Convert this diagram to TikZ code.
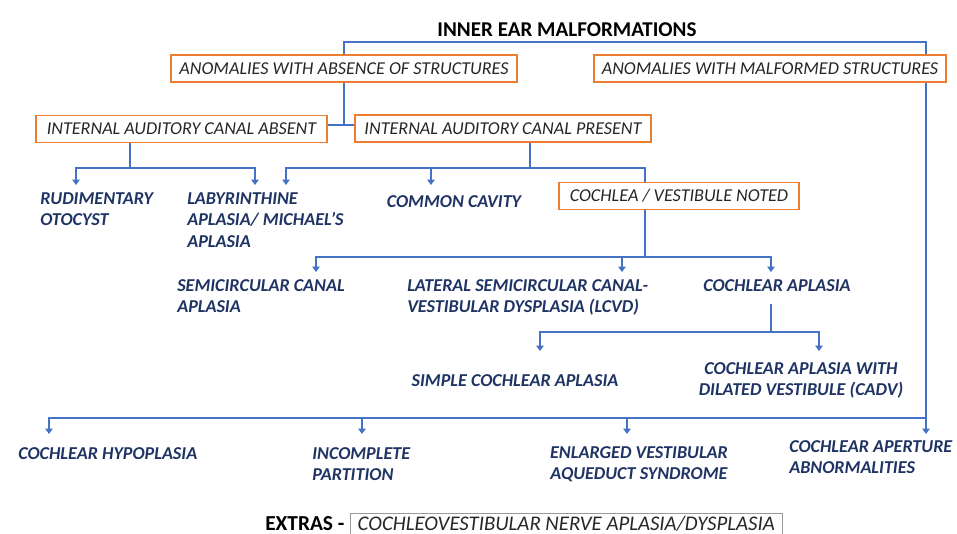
\documentclass[tikz,border=0pt]{standalone}
\usepackage{fontspec}
\setmainfont{Carlito}
\usepackage{tikz}
\usetikzlibrary{calc,arrows.meta}

\definecolor{boxorange}{RGB}{237,125,49}
\definecolor{linkblue}{RGB}{68,114,196}
\definecolor{leafblue}{RGB}{31,52,100}

\tikzset{
    title/.style={font=\bfseries\fontsize{15.8}{18}\selectfont, text=black},
    catbox/.style={draw=boxorange, line width=1.1pt, fill=white, text=black!85,
        font=\itshape\fontsize{13.6}{16}\selectfont, minimum height=20.25pt, inner xsep=3pt},
    leaf/.style={anchor=north west, align=left, inner sep=0pt, text=leafblue,
        font=\bfseries\itshape\fontsize{13.6}{16.2}\selectfont},
    link/.style={draw=linkblue, line width=1.1pt},
    arr/.style={link, -{Triangle[width=5.5pt,length=4pt]}},
}

\begin{document}
\begin{tikzpicture}[x=0.75pt, y=-0.75pt]
    \useasboundingbox (0,0) rectangle (957,534);

    \node[title] (root) at (567,30) {INNER EAR MALFORMATIONS};

    \node[catbox, minimum width=259.5pt] (absence) at (344,68.5) {ANOMALIES WITH ABSENCE OF STRUCTURES};

    \node[catbox, minimum width=264pt] (malformed) at (770,68.5) {ANOMALIES WITH MALFORMED STRUCTURES};

    \node[catbox, minimum width=218pt] (iacabsent) at (181.5,129) {INTERNAL AUDITORY CANAL ABSENT};

    \node[catbox, minimum width=222pt] (iacpresent) at (503,128.5) {INTERNAL AUDITORY CANAL PRESENT};

    \node[catbox, minimum width=180pt] (noted) at (679,196) {COCHLEA / VESTIBULE NOTED};

    % leaves
    \node[leaf] (otocyst) at (40,192) {RUDIMENTARY\\OTOCYST};

    \node[leaf] (michel) at (187,192) {LABYRINTHINE\\APLASIA/ MICHAEL'S\\APLASIA};

    \node[leaf, anchor=north] (cavity) at (454,195) {COMMON CAVITY};

    \node[leaf] (scaplasia) at (177,279) {SEMICIRCULAR CANAL\\APLASIA};

    \node[leaf] (lcvd) at (407,279) {LATERAL SEMICIRCULAR CANAL-\\VESTIBULAR DYSPLASIA (LCVD)};

    \node[leaf, anchor=north] (caplasia) at (777,279) {COCHLEAR APLASIA};

    \node[leaf, anchor=north] (simple) at (515,374) {SIMPLE COCHLEAR APLASIA};

    \node[leaf, anchor=north, align=center] (cadv) at (801,362) {COCHLEAR APLASIA WITH\\DILATED VESTIBULE (CADV)};

    \node[leaf] (hypo) at (18,447) {COCHLEAR HYPOPLASIA};

    \node[leaf] (partition) at (312,447) {INCOMPLETE\\PARTITION};

    \node[leaf, anchor=north, align=center] (evas) at (639,446) {ENLARGED VESTIBULAR\\AQUEDUCT SYNDROME};

    \node[leaf] (aperture) at (789,440) {COCHLEAR APERTURE\\ABNORMALITIES};

    % extras
    \node[draw=black!40, line width=0.6pt, anchor=north west,
        inner xsep=5.5pt, inner ysep=3pt, text height=9.5pt, text depth=10pt, text=black!85,
        font=\itshape\fontsize{15.6}{18}\selectfont] (nerve) at (350,513) {COCHLEOVESTIBULAR NERVE APLASIA/DYSPLASIA};

    \node[anchor=base east, inner xsep=4pt, font=\bfseries\fontsize{16}{18}\selectfont] (extras) at (nerve.base west) {EXTRAS -};

    % junctions
    \coordinate (topbar) at (926,42);
    \coordinate (lowbar) at (926,418);
    \coordinate (iacjoin) at (344,125);
    \coordinate (absjoin) at (130,168);
    \coordinate (presjoin) at (530,168);
    \coordinate (notedjoin) at (645,257);
    \coordinate (capstem) at (771,304);
    \coordinate (capjoin) at (771,332);

    % arrow tips
    \coordinate (otocysttip) at (76,185);
    \coordinate (micheltip) at (255,185);
    \coordinate (michelrtip) at (286,185);
    \coordinate (cavitytip) at (431,185);
    \coordinate (sctip) at (316,272);
    \coordinate (lcvdtip) at (622,272);
    \coordinate (caplasiatip) at (771,272);
    \coordinate (simpletip) at (540,351);
    \coordinate (cadvtip) at (819,351);
    \coordinate (hypotip) at (49,434);
    \coordinate (partitiontip) at (362,434);
    \coordinate (evastip) at (627,434);
    \coordinate (aperturetip) at (926,434);

    \draw[link] (absence.north) |- (topbar) -- (malformed.north -| topbar);
    \draw[link] (malformed.south -| topbar) -- (lowbar);
    \draw[link] (absence.south) -- (iacjoin);
    \draw[link] (iacabsent.east |- iacjoin) -- (iacpresent.west |- iacjoin);

    \draw[link] (absjoin |- iacabsent.south) -- (absjoin);
    \draw[arr] (absjoin) -| (otocysttip);
    \draw[arr] (absjoin) -| (micheltip);

    \draw[link] (presjoin |- iacpresent.south) -- (presjoin);
    \draw[arr] (presjoin) -| (michelrtip);
    \draw[arr] (presjoin) -| (cavitytip);
    \draw[link] (presjoin) -| (notedjoin |- noted.north);

    \draw[link] (notedjoin |- noted.south) -- (notedjoin);
    \draw[arr] (notedjoin) -| (sctip);
    \draw[arr] (notedjoin) -| (lcvdtip);
    \draw[arr] (notedjoin) -| (caplasiatip);

    \draw[link] (capstem) -- (capjoin);
    \draw[arr] (capjoin) -| (simpletip);
    \draw[arr] (capjoin) -| (cadvtip);

    \draw[arr] (lowbar) -| (hypotip);
    \draw[arr] (lowbar) -| (partitiontip);
    \draw[arr] (lowbar) -| (evastip);
    \draw[arr] (lowbar) -- (aperturetip);

\end{tikzpicture}
\end{document}
